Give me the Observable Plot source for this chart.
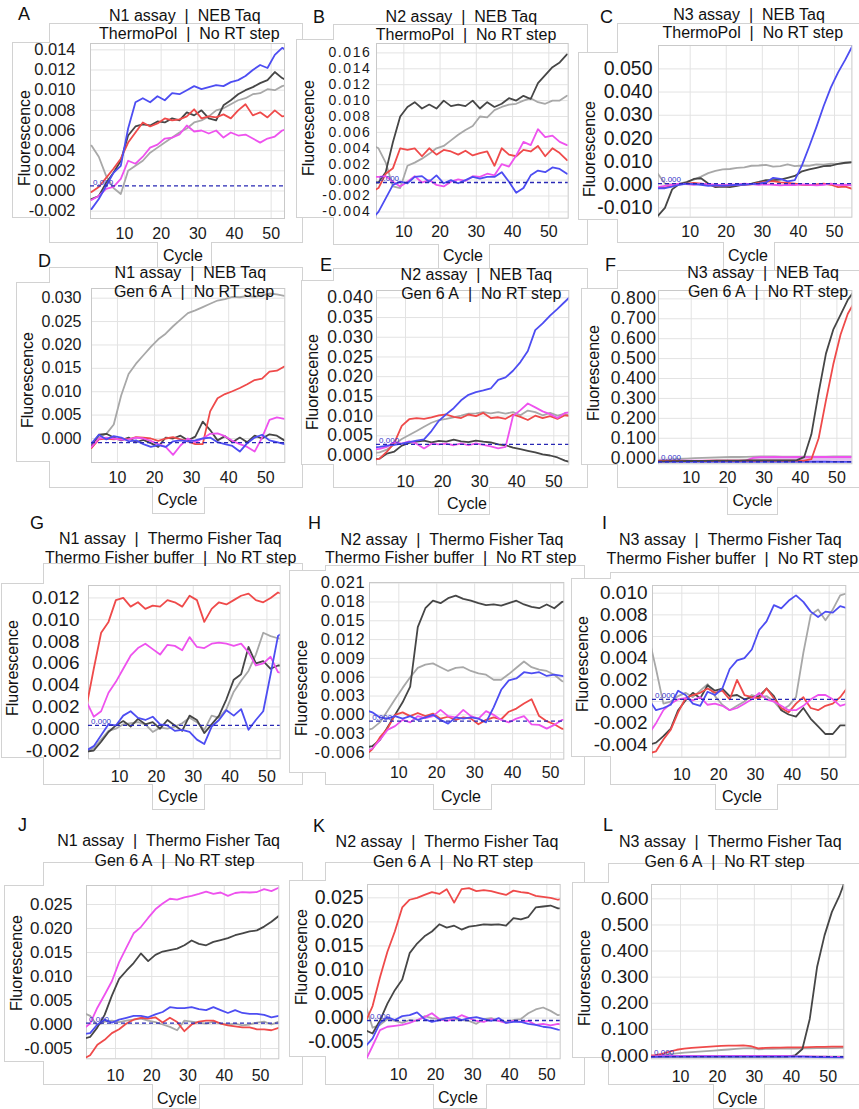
<!DOCTYPE html>
<html><head><meta charset="utf-8">
<script src="https://cdn.jsdelivr.net/npm/d3@7"></script>
<script src="https://cdn.jsdelivr.net/npm/@observablehq/plot@0.6"></script>
<style>
body{margin:0;background:#fff;}
#root{position:relative;width:859px;height:1109px;overflow:hidden;font-family:"Liberation Sans",Arial,sans-serif;color:#111;}
.abs{position:absolute;white-space:nowrap;}
.box{position:absolute;border:1px solid #d2d2d2;background:#fff;box-sizing:border-box;}
</style></head><body><div id="root"></div><script>
// ---------- data ----------
const cycles = [1,3,5,7,9,11,13,15,17,19,21,23,25,27,29,31,33,35,37,39,41,43,45,47,49,51,53,55];
const xTicks = [10,20,30,40,50];

const A_light = [0.0045,0.0034,0.0015,0.0003,-0.0003,0.0020,0.0025,0.0030,0.0038,0.0043,0.0048,0.0053,0.0058,0.0062,0.0068,0.0070,0.0074,0.0080,0.0082,0.0086,0.0090,0.0092,0.0096,0.0097,0.0101,0.0100,0.0104,0.0106];
const A_dark = [-0.0008,-0.0005,0.0008,0.0018,0.0030,0.0055,0.0064,0.0066,0.0065,0.0069,0.0068,0.0072,0.0070,0.0078,0.0075,0.0080,0.0072,0.0070,0.0085,0.0090,0.0096,0.0100,0.0103,0.0107,0.0110,0.0118,0.0112,0.0108];
const A_red = [-0.0001,0.0004,0.0013,0.0022,0.0032,0.0048,0.0058,0.0068,0.0064,0.0067,0.0072,0.0070,0.0071,0.0074,0.0081,0.0072,0.0074,0.0073,0.0076,0.0072,0.0080,0.0086,0.0075,0.0078,0.0073,0.0080,0.0074,0.0075];
const A_magenta = [-0.0009,-0.0005,0.0002,0.0004,0.0012,0.0030,0.0027,0.0034,0.0043,0.0046,0.0052,0.0053,0.0056,0.0065,0.0059,0.0060,0.0057,0.0060,0.0053,0.0058,0.0055,0.0056,0.0052,0.0048,0.0052,0.0054,0.0060,0.0062];
const A_blue = [-0.0018,-0.0008,0.0005,0.0018,0.0025,0.0062,0.0088,0.0092,0.0088,0.0094,0.0090,0.0097,0.0096,0.0100,0.0104,0.0101,0.0103,0.0105,0.0104,0.0108,0.0110,0.0114,0.0120,0.0125,0.0122,0.0135,0.0142,0.0138];

const B_light = [0.0045,0.0040,0.0022,-0.0008,-0.0010,0.0018,0.0022,0.0027,0.0033,0.0040,0.0043,0.0050,0.0057,0.0063,0.0068,0.0080,0.0079,0.0088,0.0092,0.0095,0.0096,0.0100,0.0103,0.0098,0.0096,0.0100,0.0100,0.0106];
const B_dark = [-0.0003,-0.0003,0.0010,0.0048,0.0080,0.0092,0.0098,0.0090,0.0095,0.0090,0.0100,0.0093,0.0095,0.0093,0.0100,0.0090,0.0098,0.0092,0.0096,0.0103,0.0100,0.0106,0.0102,0.0122,0.0132,0.0142,0.0148,0.0158];
const B_red = [-0.0015,-0.0010,0.0008,0.0015,0.0040,0.0038,0.0040,0.0030,0.0040,0.0032,0.0038,0.0036,0.0032,0.0037,0.0031,0.0034,0.0036,0.0018,0.0040,0.0032,0.0030,0.0038,0.0036,0.0043,0.0030,0.0040,0.0034,0.0025];
const B_magenta = [0.0004,0.0004,0.0005,-0.0002,-0.0008,-0.0002,0.0005,-0.0003,0.0000,-0.0006,-0.0008,-0.0002,0.0001,-0.0001,0.0005,0.0004,0.0008,0.0006,0.0020,0.0017,0.0031,0.0048,0.0044,0.0064,0.0054,0.0056,0.0048,0.0044];
const B_blue = [-0.0050,-0.0040,-0.0023,-0.0006,-0.0002,-0.0004,0.0004,0.0005,-0.0002,0.0006,-0.0004,0.0000,-0.0004,0.0000,0.0004,0.0002,0.0004,0.0004,0.0010,-0.0002,-0.0016,-0.0010,0.0006,0.0012,0.0010,0.0016,0.0014,0.0008];

const C_light = [0.0048,0.0005,0.0000,0.0005,0.0012,0.0022,0.0035,0.0050,0.0060,0.0066,0.0068,0.0073,0.0075,0.0082,0.0083,0.0086,0.0078,0.0080,0.0088,0.0080,0.0083,0.0082,0.0088,0.0087,0.0091,0.0090,0.0093,0.0096];
const C_dark = [-0.0135,-0.0100,-0.0020,0.0003,0.0010,0.0025,0.0028,0.0005,-0.0010,-0.0008,-0.0010,-0.0005,0.0002,0.0005,0.0012,0.0020,0.0020,0.0022,0.0030,0.0038,0.0058,0.0066,0.0073,0.0080,0.0082,0.0090,0.0095,0.0098];
const C_red = [-0.0015,-0.0012,-0.0005,0.0002,0.0005,0.0008,0.0005,0.0000,-0.0005,-0.0005,-0.0003,-0.0002,0.0000,0.0002,0.0008,0.0012,0.0016,0.0010,0.0008,0.0005,0.0000,-0.0002,0.0002,0.0005,0.0000,-0.0010,-0.0008,-0.0018];
const C_magenta = [-0.0010,-0.0005,0.0000,0.0005,0.0003,0.0000,0.0005,0.0003,0.0000,-0.0002,0.0002,0.0000,0.0005,0.0003,0.0000,0.0002,0.0000,-0.0003,0.0000,-0.0002,0.0002,0.0000,-0.0003,0.0000,0.0005,-0.0002,0.0000,-0.0003];
const C_blue = [-0.0015,-0.0015,-0.0008,0.0000,0.0005,0.0003,0.0000,-0.0005,-0.0003,-0.0005,-0.0003,0.0000,0.0000,0.0003,0.0005,0.0010,0.0030,0.0025,0.0015,0.0020,0.0085,0.0165,0.0250,0.0340,0.0420,0.0485,0.0540,0.0600];

const D_light = [-0.0020,-0.0020,0.0002,0.0010,0.0030,0.0092,0.0138,0.0160,0.0178,0.0196,0.0212,0.0224,0.0240,0.0254,0.0268,0.0274,0.0281,0.0288,0.0295,0.0298,0.0303,0.0302,0.0305,0.0303,0.0306,0.0310,0.0308,0.0305];
const D_dark = [-0.0018,-0.0016,0.0008,0.0010,0.0002,-0.0004,0.0002,-0.0008,-0.0003,-0.0010,-0.0018,0.0002,0.0000,0.0006,-0.0004,0.0004,0.0036,0.0018,-0.0004,0.0005,-0.0008,0.0002,-0.0008,0.0006,0.0000,0.0009,0.0006,-0.0004];
const D_red = [-0.0025,-0.0020,-0.0002,0.0000,-0.0002,0.0000,-0.0002,0.0003,0.0002,0.0000,-0.0005,0.0000,0.0003,-0.0002,-0.0006,-0.0012,-0.0012,0.0058,0.0086,0.0095,0.0101,0.0108,0.0116,0.0125,0.0128,0.0143,0.0145,0.0154];
const D_magenta = [-0.0020,-0.0018,0.0000,0.0002,0.0000,-0.0003,-0.0002,0.0002,0.0000,-0.0005,-0.0012,-0.0018,-0.0035,-0.0015,0.0000,-0.0008,0.0000,0.0010,0.0011,0.0005,-0.0005,-0.0012,-0.0018,-0.0028,0.0002,0.0040,0.0045,0.0042];
const D_blue = [-0.0012,-0.0010,0.0008,-0.0002,0.0005,0.0002,-0.0006,-0.0004,-0.0012,-0.0018,-0.0014,-0.0018,-0.0006,-0.0004,-0.0006,-0.0004,0.0000,0.0002,-0.0008,-0.0012,-0.0016,-0.0028,-0.0010,0.0002,0.0008,-0.0004,-0.0008,-0.0012];

const E_light = [0.0006,0.0008,0.0015,0.0028,0.0042,0.0052,0.0062,0.0073,0.0083,0.0090,0.0093,0.0097,0.0101,0.0106,0.0107,0.0110,0.0107,0.0110,0.0106,0.0110,0.0102,0.0114,0.0110,0.0102,0.0108,0.0101,0.0106,0.0097];
const E_dark = [-0.0010,-0.0008,0.0005,0.0010,0.0025,0.0032,0.0035,0.0038,0.0033,0.0037,0.0035,0.0040,0.0036,0.0034,0.0038,0.0035,0.0033,0.0028,0.0026,0.0020,0.0016,0.0012,0.0008,0.0003,0.0000,-0.0005,-0.0013,-0.0018];
const E_red = [-0.0012,-0.0008,0.0010,0.0032,0.0075,0.0092,0.0095,0.0093,0.0097,0.0102,0.0104,0.0098,0.0095,0.0104,0.0100,0.0108,0.0095,0.0097,0.0093,0.0104,0.0098,0.0090,0.0101,0.0095,0.0100,0.0093,0.0102,0.0100];
const E_magenta = [0.0015,0.0017,0.0022,0.0034,0.0030,0.0036,0.0030,0.0018,0.0030,0.0028,0.0030,0.0026,0.0031,0.0026,0.0031,0.0027,0.0023,0.0018,0.0022,0.0100,0.0115,0.0132,0.0122,0.0112,0.0105,0.0095,0.0108,0.0110];
const E_blue = [0.0020,0.0022,0.0025,0.0027,0.0030,0.0034,0.0038,0.0041,0.0062,0.0088,0.0105,0.0120,0.0140,0.0154,0.0161,0.0165,0.0170,0.0192,0.0198,0.0215,0.0237,0.0265,0.0318,0.0335,0.0355,0.0372,0.0390,0.0408];

const F_light = [-0.010,-0.008,-0.006,-0.004,-0.002,0.000,0.002,0.003,0.004,0.005,0.006,0.006,0.007,0.008,0.009,0.009,0.009,0.008,0.008,0.008,0.008,0.008,0.008,0.008,0.009,0.009,0.009,0.009];
const F_dark = [-0.016,-0.016,-0.015,-0.015,-0.014,-0.014,-0.013,-0.013,-0.012,-0.012,-0.012,-0.012,-0.011,-0.011,-0.011,-0.011,-0.011,-0.011,-0.011,-0.010,0.005,0.120,0.330,0.525,0.645,0.720,0.795,0.845];
const F_red = [-0.014,-0.014,-0.014,-0.013,-0.013,-0.013,-0.013,-0.012,-0.012,-0.012,-0.012,-0.012,-0.012,-0.012,-0.012,-0.012,-0.012,-0.012,-0.012,-0.012,-0.012,-0.005,0.100,0.290,0.470,0.620,0.725,0.790];
const F_violet = [null,null,null,null,null,null,null,null,null,null,null,null,null,-0.006,-0.007,-0.007,-0.008,-0.008,-0.008,-0.008,-0.008,-0.008,-0.008,-0.008,-0.008,-0.008,-0.008,-0.008];
const F_magenta = [-0.012,-0.012,-0.012,-0.012,-0.012,-0.012,-0.012,-0.012,-0.012,-0.012,-0.012,-0.012,-0.012,0.002,0.005,0.005,0.006,0.005,0.005,0.006,0.005,0.005,0.006,0.006,0.005,0.006,0.006,0.006];
const F_blue = [-0.019,-0.019,-0.019,-0.018,-0.018,-0.018,-0.018,-0.018,-0.018,-0.018,-0.018,-0.018,-0.018,-0.018,-0.018,-0.018,-0.018,-0.018,-0.018,-0.018,-0.018,-0.018,-0.018,-0.018,-0.019,-0.019,-0.019,-0.019];

const G_light = [-0.0020,-0.0018,-0.0010,-0.0002,0.0000,0.0004,0.0005,0.0006,0.0004,-0.0003,0.0001,0.0000,0.0002,0.0005,0.0010,0.0006,-0.0001,0.0012,0.0010,0.0018,0.0034,0.0044,0.0053,0.0068,0.0088,0.0085,0.0083,0.0082];
const G_dark = [-0.0021,-0.0020,-0.0012,-0.0003,0.0003,0.0007,0.0002,0.0009,0.0004,0.0006,0.0000,0.0008,0.0003,-0.0002,0.0012,0.0008,-0.0004,0.0004,0.0012,0.0027,0.0045,0.0050,0.0075,0.0060,0.0062,0.0055,0.0058,0.0058];
const G_red = [0.0020,0.0055,0.0088,0.0098,0.0118,0.0120,0.0112,0.0116,0.0110,0.0113,0.0112,0.0118,0.0116,0.0112,0.0122,0.0118,0.0098,0.0110,0.0116,0.0114,0.0118,0.0122,0.0124,0.0118,0.0116,0.0120,0.0125,0.0122];
const G_magenta = [0.0025,0.0011,0.0016,0.0033,0.0043,0.0055,0.0067,0.0074,0.0078,0.0073,0.0068,0.0077,0.0076,0.0072,0.0084,0.0075,0.0074,0.0078,0.0079,0.0078,0.0076,0.0078,0.0070,0.0058,0.0060,0.0066,0.0052,0.0050];
const G_blue = [-0.0020,-0.0016,-0.0006,0.0004,0.0003,0.0012,0.0016,0.0010,0.0008,0.0011,0.0004,0.0003,-0.0002,-0.0001,-0.0003,-0.0010,-0.0014,0.0002,0.0008,0.0017,0.0012,0.0018,-0.0001,0.0008,0.0016,0.0050,0.0085,0.0090];

const H_light = [-0.0025,-0.0022,-0.0012,0.0006,0.0025,0.0043,0.0060,0.0075,0.0080,0.0082,0.0076,0.0070,0.0075,0.0076,0.0070,0.0066,0.0064,0.0056,0.0056,0.0065,0.0075,0.0085,0.0076,0.0072,0.0070,0.0064,0.0054,0.0050];
const H_dark = [-0.0052,-0.0050,-0.0040,-0.0020,0.0000,0.0020,0.0045,0.0140,0.0170,0.0182,0.0178,0.0186,0.0190,0.0185,0.0182,0.0178,0.0175,0.0176,0.0174,0.0178,0.0182,0.0176,0.0172,0.0170,0.0176,0.0170,0.0180,0.0182];
const H_red = [-0.0065,-0.0055,-0.0036,-0.0022,0.0000,0.0004,-0.0002,0.0003,-0.0002,0.0002,-0.0006,-0.0003,-0.0008,-0.0004,-0.0006,-0.0015,-0.0008,-0.0004,-0.0007,0.0005,0.0010,0.0018,0.0025,-0.0002,-0.0010,-0.0015,-0.0022,-0.0025];
const H_magenta = [-0.0058,-0.0054,-0.0040,-0.0024,-0.0018,-0.0008,-0.0012,-0.0002,-0.0005,-0.0002,0.0008,-0.0002,-0.0004,0.0008,-0.0002,-0.0006,0.0006,0.0000,-0.0008,-0.0012,-0.0006,-0.0002,-0.0015,-0.0016,-0.0022,-0.0016,-0.0008,-0.0008];
const H_blue = [0.0008,0.0004,-0.0004,-0.0006,-0.0002,-0.0006,-0.0002,-0.0008,-0.0004,0.0000,-0.0008,-0.0014,-0.0004,-0.0006,-0.0004,-0.0006,-0.0012,0.0012,0.0040,0.0055,0.0058,0.0068,0.0066,0.0068,0.0062,0.0064,0.0062,0.0060];

const I_light = [0.0060,0.0030,-0.0002,0.0000,0.0005,0.0008,0.0004,0.0010,0.0016,0.0005,-0.0003,-0.0008,-0.0004,0.0000,0.0006,0.0004,0.0005,0.0000,-0.0008,-0.0004,0.0004,0.0045,0.0080,0.0085,0.0075,0.0085,0.0098,0.0100];
const I_dark = [-0.0040,-0.0038,-0.0032,-0.0025,-0.0008,0.0001,0.0008,0.0003,0.0015,0.0010,0.0012,0.0005,0.0006,0.0002,0.0004,0.0005,0.0012,0.0005,-0.0008,-0.0012,-0.0014,-0.0006,-0.0016,-0.0023,-0.0030,-0.0030,-0.0022,-0.0022];
const I_red = [-0.0048,-0.0046,-0.0035,-0.0026,-0.0010,0.0003,0.0006,0.0008,0.0012,0.0008,0.0010,0.0002,0.0020,0.0006,0.0004,0.0003,0.0012,0.0003,-0.0006,-0.0010,-0.0002,0.0004,-0.0006,-0.0008,-0.0004,-0.0002,0.0004,0.0013];
const I_magenta = [-0.0030,-0.0020,-0.0008,-0.0002,0.0002,0.0003,0.0001,0.0004,-0.0003,-0.0002,-0.0004,-0.0008,-0.0006,-0.0002,0.0002,0.0008,0.0002,0.0000,-0.0004,-0.0008,-0.0008,-0.0004,0.0002,0.0006,0.0006,0.0002,-0.0004,-0.0002];
const I_blue = [0.0002,-0.0008,-0.0006,-0.0003,0.0010,0.0006,-0.0002,-0.0004,0.0009,0.0006,0.0012,0.0030,0.0038,0.0040,0.0048,0.0066,0.0074,0.0089,0.0086,0.0093,0.0098,0.0092,0.0083,0.0078,0.0083,0.0082,0.0088,0.0086];

const J_light = [0.0025,0.0018,-0.0002,0.0006,0.0008,0.0005,0.0008,0.0010,0.0012,0.0008,0.0005,0.0000,-0.0005,-0.0012,0.0008,0.0006,0.0004,0.0002,0.0006,0.0002,0.0000,0.0002,-0.0002,0.0000,0.0004,0.0006,0.0000,0.0006];
const J_dark = [-0.0030,-0.0026,-0.0006,0.0020,0.0060,0.0095,0.0112,0.0128,0.0148,0.0132,0.0145,0.0152,0.0155,0.0158,0.0165,0.0175,0.0168,0.0165,0.0172,0.0176,0.0180,0.0186,0.0190,0.0194,0.0196,0.0204,0.0214,0.0226];
const J_red = [-0.0072,-0.0064,-0.0042,-0.0032,-0.0018,-0.0010,0.0002,0.0010,0.0014,0.0012,0.0015,0.0004,0.0014,0.0005,-0.0014,0.0000,0.0006,0.0008,0.0008,0.0002,-0.0002,-0.0004,-0.0006,-0.0006,-0.0010,-0.0010,-0.0012,-0.0007];
const J_magenta = [-0.0010,0.0002,0.0035,0.0062,0.0090,0.0130,0.0160,0.0190,0.0203,0.0222,0.0240,0.0252,0.0262,0.0260,0.0265,0.0268,0.0272,0.0277,0.0272,0.0275,0.0268,0.0274,0.0276,0.0275,0.0276,0.0282,0.0278,0.0285];
const J_blue = [-0.0020,-0.0018,0.0000,0.0010,0.0004,0.0010,0.0014,0.0018,0.0018,0.0015,0.0021,0.0026,0.0036,0.0034,0.0034,0.0036,0.0032,0.0030,0.0036,0.0030,0.0024,0.0030,0.0024,0.0022,0.0022,0.0020,0.0015,0.0018];

const K_light = [0.0030,-0.0020,-0.0014,-0.0002,-0.0006,-0.0010,-0.0004,-0.0006,0.0004,0.0000,-0.0002,0.0000,-0.0002,-0.0004,-0.0006,-0.0012,-0.0002,0.0000,-0.0006,-0.0008,-0.0004,-0.0002,0.0010,0.0018,0.0022,0.0015,0.0006,0.0008];
const K_dark = [-0.0025,-0.0032,-0.0005,0.0030,0.0058,0.0080,0.0135,0.0155,0.0170,0.0180,0.0195,0.0188,0.0192,0.0184,0.0190,0.0192,0.0195,0.0194,0.0195,0.0192,0.0208,0.0205,0.0210,0.0230,0.0232,0.0234,0.0228,0.0228];
const K_red = [-0.0010,0.0025,0.0085,0.0138,0.0180,0.0230,0.0246,0.0250,0.0256,0.0262,0.0258,0.0268,0.0240,0.0268,0.0270,0.0264,0.0266,0.0264,0.0260,0.0256,0.0265,0.0262,0.0260,0.0254,0.0252,0.0250,0.0246,0.0250];
const K_magenta = [-0.0090,-0.0058,-0.0025,-0.0018,-0.0016,-0.0014,-0.0010,-0.0004,0.0002,0.0010,-0.0002,-0.0006,-0.0002,0.0006,0.0000,-0.0006,-0.0008,-0.0002,-0.0006,-0.0010,-0.0006,-0.0008,-0.0006,-0.0014,-0.0012,-0.0015,-0.0012,-0.0015];
const K_blue = [-0.0060,-0.0042,-0.0010,0.0002,-0.0004,0.0004,0.0006,0.0012,-0.0002,-0.0008,-0.0004,0.0000,0.0002,-0.0004,0.0000,0.0002,-0.0002,-0.0006,0.0000,-0.0010,-0.0008,-0.0008,-0.0012,-0.0014,-0.0018,-0.0020,-0.0024,-0.0026];

const L_light = [-0.003,-0.001,0.002,0.005,0.008,0.011,0.013,0.015,0.017,0.019,0.021,0.023,0.025,0.027,0.028,0.024,0.025,0.025,0.026,0.026,0.026,0.027,0.027,0.028,0.028,0.028,0.029,0.029];
const L_dark = [-0.004,-0.004,-0.004,-0.004,-0.004,-0.004,-0.004,-0.004,-0.004,-0.004,-0.004,-0.004,-0.004,-0.004,-0.004,-0.004,-0.004,-0.004,-0.004,-0.004,0.000,0.025,0.140,0.340,0.460,0.550,0.610,0.685];
const L_red = [-0.002,0.001,0.006,0.015,0.022,0.026,0.029,0.031,0.033,0.035,0.037,0.038,0.038,0.039,0.036,0.027,0.029,0.030,0.030,0.031,0.031,0.031,0.032,0.033,0.033,0.034,0.034,0.034];
const L_magenta = [-0.003,-0.003,-0.002,-0.002,-0.002,-0.002,-0.002,-0.002,-0.002,-0.002,-0.002,-0.002,-0.002,-0.002,-0.002,-0.002,-0.002,-0.002,-0.002,-0.002,-0.003,-0.003,-0.003,-0.004,-0.004,-0.005,-0.005,-0.005];
const L_blue = [-0.005,-0.005,-0.004,-0.004,-0.004,-0.004,-0.004,-0.004,-0.004,-0.004,-0.004,-0.004,-0.004,-0.004,-0.004,-0.004,-0.004,-0.004,-0.004,-0.004,-0.004,-0.004,-0.005,-0.006,-0.007,-0.008,-0.009,-0.010];

// tick labels
const A_yTicks = [-0.002,0,0.002,0.004,0.006,0.008,0.010,0.012,0.014];
const B_yTicks = [-0.004,-0.002,0,0.002,0.004,0.006,0.008,0.010,0.012,0.014,0.016];
const C_yTicks = [-0.010,0,0.010,0.020,0.030,0.040,0.050];
const D_yTicks = [0,0.005,0.010,0.015,0.020,0.025,0.030];
const E_yTicks = [0,0.005,0.010,0.015,0.020,0.025,0.030,0.035,0.040];
const F_yTicks = [0,0.1,0.2,0.3,0.4,0.5,0.6,0.7,0.8];
const G_yTicks = [-0.002,0,0.002,0.004,0.006,0.008,0.010,0.012];
const H_yTicks = [-0.006,-0.003,0,0.003,0.006,0.009,0.012,0.015,0.018,0.021];
const I_yTicks = [-0.004,-0.002,0,0.002,0.004,0.006,0.008,0.010];
const J_yTicks = [-0.005,0,0.005,0.010,0.015,0.020,0.025];
const K_yTicks = [-0.005,0,0.005,0.010,0.015,0.020,0.025];
const L_yTicks = [0,0.1,0.2,0.3,0.4,0.5,0.6];

// thresholds
const thresholds = {A:0.0005,B:-0.0003,C:0.0005,D:-0.0009,E:0.0028,F:-0.018,G:0.0003,H:-0.001,I:0.0002,J:0.0003,K:-0.0005,L:-0.004};

// titles
const titlesNEB = ["NEB Taq","No RT step"];
const titlesTF = ["Thermo Fisher Taq","No RT step"];
const A_title = ["N1 assay","ThermoPol"], B_title = ["N2 assay","ThermoPol"], C_title = ["N3 assay","ThermoPol"];
const D_title = ["N1 assay","Gen 6 A"], E_title = ["N2 assay","Gen 6 A"], F_title = ["N3 assay","Gen 6 A"];
const G_title = ["N1 assay","Thermo Fisher buffer"], H_title = ["N2 assay","Thermo Fisher buffer"], I_title = ["N3 assay","Thermo Fisher buffer"];
const J_title = ["N1 assay","Gen 6 A"], K_title = ["N2 assay","Gen 6 A"], L_title = ["N3 assay","Gen 6 A"];

// ---------- layout ----------
const colors = {light:"#a8a8a8", dark:"#464646", red:"#ef4a4a", magenta:"#ee52ee", blue:"#4d4df2", violet:"#dcb0ec"};
const S = (l,d,r,m,b)=>[["light",l],["dark",d],["red",r],["magenta",m],["blue",b]];

const panels = [
 {id:"A", frame:[90,43,284,218], xd:[0.74,53.64], yd:[-0.00273,0.01463], yTicks:A_yTicks, yfs:16.5, ls:0, ypad:15, xpad:9, lbl:true,
  series:S(A_light,A_dark,A_red,A_magenta,A_blue), title:A_title, right:titlesNEB, pipes:[[186.7,15.7],[188.3,34]],
  letter:[18,13.5], fluor:[24.5,137.5], cycle:[183,255.5], box:{m:[49,23,303,243], s:[12,42,218], c:[157,212,272]}},
 {id:"B", frame:[376,43.3,567.7,218], xd:[2.46,55.34], yd:[-0.00479,0.01718], yTicks:B_yTicks, yfs:14, ls:1.6, ypad:5, xpad:7, lbl:true,
  series:S(B_light,B_dark,B_red,B_magenta,B_blue), title:B_title, right:titlesNEB, pipes:[[463.3,16.7],[465,35]],
  letter:[313,16.5], fluor:[308.5,127.5], cycle:[463,255.5], box:{m:[333,24,588,245], s:[296,39,218], c:[438,490,272]}},
 {id:"C", frame:[658.3,45,851.7,216.7], xd:[1.22,54.82], yd:[-0.0140,0.0601], yTicks:C_yTicks, yfs:19.5, ls:0, ypad:6, xpad:8, lbl:true,
  series:S(C_light,C_dark,C_red,C_magenta,C_blue), title:C_title, right:titlesNEB, pipes:[[751,15],[751.7,33.3]],
  letter:[600,16.5], fluor:[590,149], cycle:[748,255.5], box:{m:[617,23,870,243], s:[578,52,220], c:[723,775,272]}},
 {id:"D", frame:[90.7,287.7,284,461.7], xd:[3.0,55.13], yd:[-0.00513,0.03207], yTicks:D_yTicks, yfs:16, ls:0, ypad:10, xpad:9, lbl:false,
  series:S(D_light,D_dark,D_red,D_magenta,D_blue), title:D_title, right:titlesNEB, pipes:[[192.3,273],[182.7,291.5]],
  letter:[38,261], fluor:[28,380], cycle:[177.5,500], box:{m:[49,267,303,488], s:[16,282,462], c:[152,205,514]}},
 {id:"E", frame:[376,290,568.3,464.3], xd:[2.18,54.05], yd:[-0.00236,0.04186], yTicks:E_yTicks, yfs:17.5, ls:0.5, ypad:3, xpad:10.5, lbl:true,
  series:S(E_light,E_dark,E_red,E_magenta,E_blue), title:E_title, right:titlesNEB, pipes:[[478.3,275],[470,294.3]],
  letter:[320,265], fluor:[313,381.7], cycle:[467,503.5], box:{m:[333,268,588,488], s:[301,280,465], c:[438,490,515]}},
 {id:"F", frame:[658.3,290,851.7,463.3], xd:[1.02,54.12], yd:[-0.0281,0.8419], yTicks:F_yTicks, yfs:17.5, ls:0.4, ypad:2, xpad:8, lbl:true,
  series:[["light",F_light],["violet",F_violet],["magenta",F_magenta],["blue",F_blue],["red",F_red],["dark",F_dark]], title:F_title, right:titlesNEB, pipes:[[765,273],[756.7,292]],
  letter:[605,265], fluor:[593.5,372.5], cycle:[752.5,501], box:{m:[617,270,870,488], s:[581,288,465], c:[727,778,515]}},
 {id:"G", frame:[88.3,585,280,758.3], xd:[1.57,53.6], yd:[-0.00276,0.01314], yTicks:G_yTicks, yfs:19, ls:0, ypad:9, xpad:11.5, lbl:true,
  series:S(G_light,G_dark,G_red,G_magenta,G_blue), title:G_title, right:titlesTF, pipes:[[136.7,539.3],[205,558.3]],
  letter:[30,522.5], fluor:[13,668.3], cycle:[178,796.7], box:{m:[43,563,303,785], s:[1,583,758], c:[152,205,810]}},
 {id:"H", frame:[369,581.7,563.3,758.3], xd:[2.27,53.5], yd:[-0.00705,0.0211], yTicks:H_yTicks, yfs:16.5, ls:0.7, ypad:4, xpad:8, lbl:true,
  series:S(H_light,H_dark,H_red,H_magenta,H_blue), title:H_title, right:titlesTF, pipes:[[418.3,540],[485,558.3]],
  letter:[308,522.5], fluor:[301.7,688.3], cycle:[461,796.7], box:{m:[325,565,585,785], s:[289,570,773], c:[433,492,810]}},
 {id:"I", frame:[651.7,585,845,756.7], xd:[2.04,54.52], yd:[-0.00514,0.01071], yTicks:I_yTicks, yfs:19, ls:0, ypad:5, xpad:11.5, lbl:true,
  series:S(I_light,I_dark,I_red,I_magenta,I_blue), title:I_title, right:titlesTF, pipes:[[696.7,540],[766.7,559.3]],
  letter:[602,522.5], fluor:[583.3,664], cycle:[742,796.7], box:{m:[610,572,870,785], s:[571,578,757], c:[715,778,810]}},
 {id:"J", frame:[86,885,278.3,1058.3], xd:[2.0,55.04], yd:[-0.00715,0.02896], yTicks:J_yTicks, yfs:17, ls:0, ypad:14, xpad:10.5, lbl:true,
  series:S(J_light,J_dark,J_red,J_magenta,J_blue), title:J_title, right:titlesTF, pipes:[[135,840.7],[163.3,860.7]],
  letter:[18,825], fluor:[16.7,963.3], cycle:[177,1099], box:{m:[43,862,303,1085], s:[4,885,1062], c:[152,200,1109]}},
 {id:"K", frame:[367.3,884,560,1058.3], xd:[1.63,53.6], yd:[-0.00846,0.02777], yTicks:K_yTicks, yfs:19.5, ls:0, ypad:4, xpad:10, lbl:true,
  series:S(K_light,K_dark,K_red,K_magenta,K_blue), title:K_title, right:titlesTF, pipes:[[413.3,841.7],[441.7,861.7]],
  letter:[313,826], fluor:[301.7,956.7], cycle:[458,1098], box:{m:[325,862,585,1085], s:[289,880,1057], c:[433,487,1109]}},
 {id:"L", frame:[651,884,843.3,1058.3], xd:[2.14,54.22], yd:[-0.01264,0.6549], yTicks:L_yTicks, yfs:19, ls:0, ypad:3, xpad:11.5, lbl:true,
  series:[["light",L_light],["red",L_red],["dark",L_dark],["magenta",L_magenta],["blue",L_blue]], title:L_title, right:titlesTF, pipes:[[696.7,841.7],[713.3,861.7]],
  letter:[603,825], fluor:[584.5,978.3], cycle:[737.5,1099], box:{m:[608,863,870,1085], s:[572,882,1058], c:[713,765,1109]}}
];

const root = document.getElementById("root");
const FONT = '"Liberation Sans", Arial, sans-serif';

function div(cls, css){ const d=document.createElement("div"); d.className=cls; Object.assign(d.style, css); root.appendChild(d); return d; }

// decorative frames
for (const p of panels){
  const [l,t,r,b] = p.box.m;
  div("box",{left:l+"px",top:t+"px",width:(r-l)+"px",height:(b-t)+"px"});
  const [sl,st,sb] = p.box.s;
  div("box",{left:sl+"px",top:st+"px",width:(l-sl+1)+"px",height:(sb-st)+"px",borderRight:"none"});
  const [cl,cr,cb] = p.box.c;
  div("box",{left:cl+"px",top:(b-1)+"px",width:(cr-cl)+"px",height:(cb-b+1)+"px",borderTop:"none"});
}

// charts
for (const p of panels){
  const ml=80, mr=6, mt=6, mb=36;
  const [fl,ft,fr,fb] = p.frame;
  const w = fr-fl, h = fb-ft;
  const thr = thresholds[p.id];
  const lines = p.series.map(([key, vals]) => Plot.line(vals, {
    x:(d,i)=>cycles[i], y:d=>d, stroke:colors[key],
    strokeWidth: key==="violet" ? 4 : 1.8, strokeOpacity: key==="violet" ? 0.8 : 1,
    clip:true, strokeLinejoin:"round"}));
  const marks = [
    Plot.ruleX(xTicks, {stroke:"#e3e3e3"}),
    Plot.ruleY(p.yTicks, {stroke:"#e3e3e3"}),
    Plot.frame({stroke:"#c9c9c9"}),
    ...lines,
    Plot.ruleY([thr], {stroke:"#2828b4", strokeWidth:1.3, strokeDasharray:"4,3"}),
    Plot.axisX(xTicks, {tickSize:0, tickPadding:p.xpad, fontSize:16, label:null}),
    Plot.axisY(p.yTicks, {tickSize:0, tickPadding:p.ypad, fontSize:p.yfs, tickFormat:d=>d.toFixed(3), label:null})
  ];
  if (p.lbl) marks.push(Plot.text([thr], {x:p.xd[0]+0.7, y:d=>d, text:()=>"0.000", dy:-4, fontSize:8, fill:"#3434c8", textAnchor:"start"}));
  const svg = Plot.plot({
    width:w+ml+mr, height:h+mt+mb, marginLeft:ml, marginRight:mr, marginTop:mt, marginBottom:mb,
    x:{domain:p.xd}, y:{domain:p.yd},
    style:{background:"transparent", fontFamily:FONT, color:"#1a1a1a", overflow:"visible"},
    marks
  });
  if (p.ls) svg.querySelectorAll('g[aria-label="y-axis tick label"] text').forEach(t => t.setAttribute("letter-spacing", p.ls));
  svg.style.position="absolute";
  svg.style.left=(fl-ml)+"px";
  svg.style.top=(ft-mt)+"px";
  root.appendChild(svg);
}

// texts
function txt(s, x, y, fs, anchor){
  const d = div("abs",{fontSize:fs+"px", lineHeight:fs+"px", top:(y-fs/2)+"px"});
  d.textContent = s;
  if (anchor==="start") d.style.left = x+"px";
  else if (anchor==="end") d.style.right = (859-x)+"px";
  else { d.style.left = x+"px"; d.style.transform="translateX(-50%)"; }
  return d;
}
for (const p of panels){
  const gap = 11;
  for (let k=0;k<2;k++){
    const [px,py] = p.pipes[k];
    txt(p.title[k], px-gap, py, 16, "end");
    txt("|", px, py, 16, "middle");
    txt(p.right[k], px+gap, py, 16, "start");
  }
  txt(p.id, p.letter[0], p.letter[1], 18, "start");
  const f = div("abs",{fontSize:"16px", lineHeight:"16px", left:p.fluor[0]+"px", top:p.fluor[1]+"px", transform:"translate(-50%,-50%) rotate(-90deg)"});
  f.textContent = "Fluorescence";
  txt("Cycle", p.cycle[0], p.cycle[1], 16, "middle");
}
</script></body></html>
